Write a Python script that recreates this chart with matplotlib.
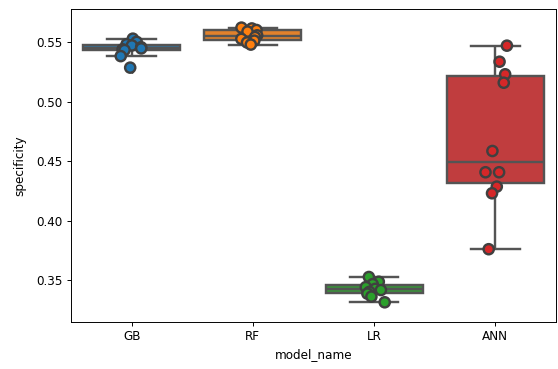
import numpy as np
import pandas as pd
import seaborn as sns
import matplotlib
matplotlib.use("Agg")
import matplotlib.pyplot as plt

# specificity per fold
model_names = ["GB", "RF", "LR", "ANN"]
gb_scores = [0.5532, 0.5505, 0.5485, 0.5475, 0.5460, 0.5450, 0.5442, 0.5436, 0.5385, 0.5288]
rf_scores = [0.5625, 0.5618, 0.5605, 0.5592, 0.5560, 0.5545, 0.5530, 0.5515, 0.5500, 0.5482]
lr_scores = [0.3525, 0.3485, 0.3465, 0.3440, 0.3425, 0.3415, 0.3400, 0.3385, 0.3360, 0.3312]
ann_scores = [0.5473, 0.5338, 0.5232, 0.5161, 0.4586, 0.4407, 0.4407, 0.4286, 0.4230, 0.3759]

df = pd.DataFrame({
    "model_name": np.repeat(model_names, 10),
    "specificity": gb_scores + rf_scores + lr_scores + ann_scores,
})

dpi = 86.4
fig = plt.figure(figsize=(558 / dpi, 369 / dpi), dpi=dpi)
ax = fig.add_axes([71 / 558, 1 - 322 / 369, (556 - 71) / 558, (322 - 8.5) / 369])

palette = sns.color_palette("tab10", 4)
sns.boxplot(data=df, x="model_name", y="specificity", hue="model_name",
            order=model_names, palette=palette, saturation=0.75,
            linewidth=2, linecolor="0.33", legend=False, ax=ax,
            flierprops={"marker": "d", "markersize": 6,
                        "markerfacecolor": "0.3", "markeredgecolor": "0.3"})
np.random.seed(3)
sns.stripplot(data=df, x="model_name", y="specificity", hue="model_name",
              order=model_names, palette=palette, size=8.5, linewidth=2,
              edgecolor="0.25", legend=False, ax=ax)

ax.set_ylim(0.3146, 0.5786)
ax.set_yticks([0.35, 0.40, 0.45, 0.50, 0.55])
ax.set_xlabel("model_name")
ax.set_ylabel("specificity", labelpad=8)

fig.savefig("out.png", dpi=dpi)
